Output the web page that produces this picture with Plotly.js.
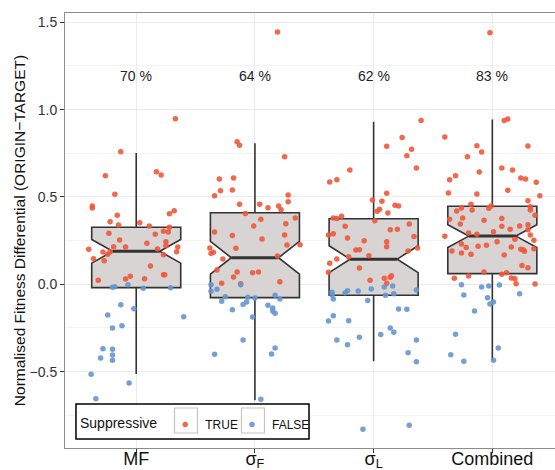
<!DOCTYPE html>
<html><head><meta charset="utf-8">
<script src="https://cdn.plot.ly/plotly-3.0.1.min.js"></script>
<style>html,body{margin:0;padding:0;background:#fff}</style>
</head><body><div id="chart" style="width:555px;height:470px"></div>
<script>
// ---- data ----
const categories = ['MF', 'σ<sub>F</sub>', 'σ<sub>L</sub>', 'Combined'];
const q1 = [-0.019, -0.076, -0.063, 0.061];
const medians = [0.189, 0.152, 0.144, 0.276];
const q3 = [0.327, 0.410, 0.375, 0.447];
const lowerWhisker = [-0.514, -0.663, -0.440, -0.434];
const upperWhisker = [0.752, 0.808, 0.931, 0.943];
const notchSpan = [0.068, 0.094, 0.077, 0.065];
const pctLabels = ['70 %', '64 %', '62 %', '83 %'];

// points: values and horizontal jitter (category units), TRUE = suppressive
const mfTrueVal = [0.948,0.759,0.645,0.626,0.622,0.515,0.448,0.437,0.421,0.404,0.395,0.358,0.339,0.353,0.334,0.326,0.292,0.303,0.299,0.286,0.254,0.244,0.235,0.215,0.213,0.213,0.221,0.200,0.202,0.187,0.185,0.187,0.172,0.169,0.147,0.135,0.105,0.055,0.055,0.046,0.030,0.032,0.023];
const mfTrueJit = [0.33,-0.13,0.17,0.21,-0.26,-0.18,-0.37,-0.37,0.32,0.28,-0.16,-0.22,-0.15,0.03,0.11,0.28,-0.23,0.23,0.27,0.16,-0.14,0.25,0.09,-0.19,-0.09,0.35,0.25,-0.40,0.18,0.34,-0.28,-0.22,-0.24,0.23,-0.36,-0.27,0.12,0.23,0.24,-0.05,-0.09,0.07,-0.32];
const mfFalseVal = [-0.017,-0.014,-0.002,-0.023,-0.019,-0.117,-0.140,-0.176,-0.185,-0.250,-0.237,-0.369,-0.372,-0.422,-0.405,-0.435,-0.515,-0.565,-0.655];
const mfFalseJit = [-0.20,-0.18,-0.07,0.06,0.29,-0.13,-0.02,-0.24,0.40,-0.20,-0.12,-0.28,-0.20,-0.30,-0.20,-0.20,-0.38,-0.06,-0.34];

const sfTrueVal = [0.816,0.796,0.730,0.603,0.608,0.536,0.540,0.507,0.511,0.473,0.458,0.458,0.438,0.448,0.427,0.406,0.372,0.380,0.347,0.334,0.299,0.280,0.282,0.259,0.225,0.227,0.206,0.208,0.177,0.183,0.145,0.162,0.082,0.070,0.066,0.070,0.042,0.006,0.003,0.015,1.444];
const sfTrueJit = [-0.15,-0.13,0.25,-0.30,-0.18,-0.29,-0.19,-0.34,0.28,0.28,-0.13,0.04,0.11,0.20,0.22,-0.08,0.05,0.34,0.26,-0.01,-0.34,-0.19,0.25,0.06,0.27,0.38,-0.16,-0.38,-0.37,-0.35,-0.27,0.19,-0.32,-0.15,-0.02,0.03,-0.18,-0.28,-0.12,0.21,0.19];
const sfFalseVal = [-0.002,-0.029,-0.040,-0.071,-0.097,-0.002,-0.074,-0.078,-0.101,-0.115,-0.145,-0.063,-0.084,-0.120,-0.136,-0.153,-0.166,-0.187,-0.319,-0.365,-0.399,-0.401,-0.658];
const sfFalseJit = [-0.37,-0.32,-0.37,-0.25,-0.28,-0.12,-0.06,0.00,-0.07,-0.10,-0.19,0.17,0.21,0.11,0.15,0.15,0.17,-0.02,-0.10,0.17,0.14,-0.34,0.05];

const slTrueVal = [0.937,0.841,0.790,0.773,0.736,0.666,0.654,0.586,0.599,0.521,0.483,0.475,0.452,0.448,0.429,0.418,0.408,0.380,0.376,0.389,0.364,0.345,0.332,0.313,0.315,0.282,0.290,0.273,0.265,0.250,0.244,0.215,0.196,0.198,0.208,0.191,0.158,0.164,0.145,0.120,0.069,0.093,0.023,0.034,0.040,0.049,0.006];
const slTrueJit = [0.40,0.24,0.11,0.32,0.28,0.36,-0.20,-0.37,-0.31,0.11,-0.01,0.07,0.18,0.21,0.05,0.03,0.12,-0.34,-0.31,-0.27,0.01,0.30,-0.24,0.14,0.20,-0.38,-0.34,0.34,-0.22,-0.08,0.11,0.11,-0.15,-0.12,0.37,0.29,-0.21,-0.04,-0.31,-0.37,-0.38,-0.12,-0.03,0.09,0.14,0.15,0.11];
const slFalseVal = [-0.046,-0.061,-0.084,-0.048,-0.037,-0.038,-0.027,-0.092,-0.015,-0.010,-0.063,-0.054,-0.033,-0.141,-0.143,-0.180,-0.210,-0.208,-0.319,-0.346,-0.303,-0.288,-0.250,-0.275,-0.319,-0.392,-0.443,-0.830,-0.807];
const slFalseJit = [-0.35,-0.35,-0.34,-0.24,-0.22,-0.13,-0.02,-0.05,0.09,0.16,0.10,0.17,0.36,0.21,0.28,-0.34,-0.38,-0.21,-0.31,-0.22,-0.12,0.06,0.14,0.17,0.36,0.29,0.36,-0.09,0.30];

const coTrueVal = [1.440,0.937,0.946,0.843,0.793,0.792,0.757,0.730,0.666,0.654,0.643,0.622,0.599,0.608,0.603,0.584,0.538,0.523,0.517,0.507,0.479,0.458,0.448,0.437,0.420,0.425,0.435,0.444,0.425,0.395,0.372,0.380,0.366,0.376,0.345,0.332,0.315,0.334,0.341,0.313,0.294,0.286,0.301,0.275,0.282,0.258,0.252,0.244,0.231,0.210,0.218,0.223,0.214,0.200,0.198,0.189,0.204,0.191,0.179,0.172,0.168,0.107,0.095,0.070,0.048,0.034,0.057,0.066,0.036,0.032,0.003,0.002];
const coTrueJit = [-0.02,0.10,0.13,-0.40,-0.13,0.30,-0.09,-0.21,0.08,0.17,-0.11,-0.31,-0.36,0.24,0.28,0.37,0.13,-0.37,-0.13,0.40,0.30,-0.18,-0.01,-0.26,-0.30,-0.17,-0.03,0.32,0.32,0.36,-0.36,-0.25,-0.07,0.08,-0.27,0.08,0.15,0.23,0.30,0.30,-0.20,-0.13,0.01,-0.40,0.32,0.19,0.35,0.04,-0.26,-0.22,-0.12,-0.05,0.16,0.24,0.26,0.27,0.35,-0.34,-0.26,-0.18,0.10,0.25,0.30,-0.07,-0.20,-0.32,0.08,0.12,0.16,0.19,0.20,0.36];
const coFalseVal = [-0.002,-0.061,-0.015,-0.010,-0.004,-0.077,-0.101,-0.113,-0.054,-0.153,-0.286,-0.403,-0.441,-0.365,-0.435];
const coFalseJit = [-0.26,-0.24,-0.09,-0.03,0.06,-0.04,0.01,-0.02,0.23,-0.15,-0.31,-0.35,-0.24,0.05,0.01];

const trueGroups = [[mfTrueVal, mfTrueJit], [sfTrueVal, sfTrueJit], [slTrueVal, slTrueJit], [coTrueVal, coTrueJit]];
const falseGroups = [[mfFalseVal, mfFalseJit], [sfFalseVal, sfFalseJit], [slFalseVal, slFalseJit], [coFalseVal, coFalseJit]];

// ---- styles ----
const FONT = 'Liberation Sans, Arial, Helvetica, sans-serif';
const RED = 'rgba(240,88,58,0.9)';
const BLUE = 'rgba(102,150,208,0.9)';
const BOX_WIDTH = 0.75, NOTCH_WIDTH = 0.235;
const pos = categories.map((c, i) => i);

const traces = [{
  type: 'box', x: pos, q1: q1, median: medians, q3: q3,
  lowerfence: lowerWhisker, upperfence: upperWhisker, notchspan: notchSpan,
  notched: true, notchwidth: NOTCH_WIDTH, width: BOX_WIDTH, whiskerwidth: 0,
  boxpoints: false, fillcolor: '#d8d4d4',
  line: {color: '#333333', width: 1.6},
  showlegend: false, hoverinfo: 'skip'
}];

// thicker median segments (drawn under the points)
const halfMed = BOX_WIDTH / 2 * (1 - 2 * NOTCH_WIDTH);
const medX = [], medY = [];
medians.forEach((m, i) => { medX.push(i - halfMed, i + halfMed, null); medY.push(m, m, null); });
traces.push({type: 'scatter', mode: 'lines', x: medX, y: medY,
  line: {color: '#333333', width: 3}, showlegend: false, hoverinfo: 'skip'});

function addPoints(groups, name, color, legendId) {
  groups.forEach((g, i) => {
    traces.push({
      type: 'scatter', mode: 'markers', name: name, legendgroup: name, legend: legendId,
      showlegend: i === 0,
      x: g[1].map(j => i + j), y: g[0],
      marker: {color: color, size: 5.5},
      hoverinfo: 'skip'
    });
  });
}
addPoints(trueGroups, 'TRUE', RED, 'legend');
addPoints(falseGroups, 'FALSE', BLUE, 'legend2');

// legend frame and key boxes (paper coordinates)
const legendFrame = {type: 'rect', xref: 'paper', yref: 'paper', x0: 0.0224, x1: 0.498, y0: 0.0207, y1: 0.1011,
  fillcolor: '#ffffff', line: {color: '#000000', width: 1.5}, layer: 'above'};
const keyBox = (x0, x1) => ({type: 'rect', xref: 'paper', yref: 'paper', x0: x0, x1: x1, y0: 0.0345, y1: 0.092,
  fillcolor: 'rgba(0,0,0,0)', line: {color: '#c4c4c4', width: 1.2}, layer: 'above'});

const legendBase = {
  orientation: 'h', y: 0.0207, xanchor: 'left', yanchor: 'bottom',
  bgcolor: 'rgba(0,0,0,0)', borderwidth: 0,
  font: {size: 12, color: '#111111'}, itemwidth: 30
};

const layout = {
  width: 555, height: 470,
  margin: {l: 65, r: 0, t: 13, b: 22},
  paper_bgcolor: '#ffffff', plot_bgcolor: '#ffffff',
  font: {family: FONT, color: '#333333'},
  xaxis: {
    range: [-0.6, 3.528], tickmode: 'array', tickvals: pos, ticktext: categories,
    tickfont: {size: 18, color: '#111111'}, ticklabelstandoff: -10,
    showgrid: true, gridcolor: '#ebebeb', gridwidth: 1,
    zeroline: false, showline: true, linecolor: '#8c8c8c', linewidth: 1, mirror: true,
    ticks: 'outside', ticklen: 4, tickcolor: '#333333'
  },
  yaxis: {
    range: [-0.937, 1.553], tick0: 0, dtick: 0.5, tickformat: '.1f',
    tickfont: {size: 14, color: '#333333'},
    showgrid: true, gridcolor: '#ebebeb', gridwidth: 1,
    minor: {dtick: 0.25, showgrid: true, gridcolor: '#f3f3f3', gridwidth: 1},
    zeroline: false, showline: true, linecolor: '#8c8c8c', linewidth: 1,
    ticks: 'outside', ticklen: 4, tickcolor: '#333333',
    title: {text: 'Normalised Fitness Differential (ORIGIN−TARGET)', font: {size: 15.5, color: '#111111'}, standoff: 0}
  },
  annotations: pctLabels.map((t, i) => ({
    x: i, y: 1.19, xref: 'x', yref: 'y', text: t, showarrow: false,
    font: {size: 14, color: '#222222'}
  })),
  shapes: [legendFrame, keyBox(0.2235, 0.2704), keyBox(0.3602, 0.4071)],
  legend: Object.assign({}, legendBase, {x: 0.0265,
    title: {text: 'Suppressive', font: {size: 14, color: '#111111'}, side: 'left'}}),
  legend2: Object.assign({}, legendBase, {x: 0.3408}),
  showlegend: true
};

Plotly.newPlot('chart', traces, layout, {staticPlot: true, displayModeBar: false});
</script>
</body></html>
